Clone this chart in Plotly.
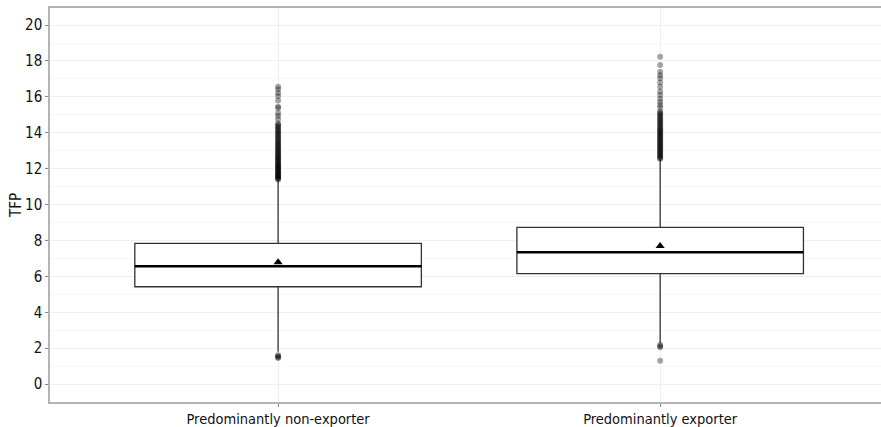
import plotly.graph_objects as go

categories = ["Predominantly non-exporter", "Predominantly exporter"]
positions = [1, 2]
q1 = [5.42, 6.15]
median = [6.56, 7.34]
q3 = [7.84, 8.73]
lower_whisker = [1.80, 2.28]
upper_whisker = [11.36, 12.52]
means = [6.78, 7.69]

outliers_non_exporter = [
    1.45, 1.50, 1.55, 1.60,
    11.40, 11.44, 11.48, 11.52, 11.56, 11.60, 11.65, 11.70, 11.74, 11.79, 11.84,
    11.88, 11.93, 11.98, 12.03, 12.08, 12.12, 12.17, 12.22, 12.28, 12.33, 12.38,
    12.44, 12.49, 12.55, 12.61, 12.66, 12.72, 12.78, 12.84, 12.90, 12.96, 13.02,
    13.08, 13.14, 13.20, 13.27, 13.33, 13.40, 13.46, 13.53, 13.60, 13.67, 13.74,
    13.80, 13.87, 13.94, 14.01, 14.08, 14.15, 14.22, 14.30, 14.37, 14.45, 14.52,
    14.75, 14.95, 15.10, 15.38, 15.45, 15.80, 16.05, 16.22, 16.42, 16.56,
]
outliers_exporter = [
    1.30, 2.05, 2.12, 2.18,
    12.55, 12.60, 12.65, 12.70, 12.76, 12.82, 12.88, 12.94, 13.00, 13.06, 13.12,
    13.18, 13.24, 13.30, 13.36, 13.42, 13.48, 13.54, 13.60, 13.66, 13.72, 13.78,
    13.84, 13.90, 13.96, 14.02, 14.08, 14.14, 14.20, 14.26, 14.33, 14.40, 14.47,
    14.54, 14.61, 14.68, 14.75, 14.82, 14.90, 14.98, 15.05, 15.12, 15.18,
    15.40, 15.55, 15.72, 15.90, 16.10, 16.30, 16.56, 16.80, 17.03, 17.20, 17.40,
    17.77, 18.23,
]
y_ticks = [0, 2, 4, 6, 8, 10, 12, 14, 16, 18, 20]
box_width = 0.75

FONT = "DejaVu Sans Condensed, Roboto Condensed, Roboto, sans-serif"
fig = go.Figure()

for i in range(2):
    fig.add_trace(go.Box(
        x=[positions[i]], q1=[q1[i]], median=[median[i]], q3=[q3[i]],
        lowerfence=[lower_whisker[i]], upperfence=[upper_whisker[i]],
        boxpoints=False, width=box_width, whiskerwidth=0,
        fillcolor="white", line=dict(color="#333333", width=1.3),
        showlegend=False, hoverinfo="skip",
    ))
    # thicker median line
    fig.add_trace(go.Scatter(
        x=[positions[i] - box_width / 2, positions[i] + box_width / 2],
        y=[median[i], median[i]], mode="lines",
        line=dict(color="black", width=2.4), showlegend=False, hoverinfo="skip",
    ))

for pos, vals in zip(positions, [outliers_non_exporter, outliers_exporter]):
    fig.add_trace(go.Scatter(
        x=[pos] * len(vals), y=vals, mode="markers",
        marker=dict(size=6, color="black", opacity=0.35, line=dict(width=0)),
        showlegend=False, hoverinfo="skip",
    ))

fig.add_trace(go.Scatter(
    x=positions, y=means, mode="markers",
    marker=dict(symbol="triangle-up", size=8, color="black"),
    showlegend=False, hoverinfo="skip",
))

fig.update_layout(
    width=881, height=427,
    margin=dict(l=50, r=0, t=8, b=25),
    paper_bgcolor="white", plot_bgcolor="white",
    font=dict(family=FONT, size=14, color="#111111"),
    xaxis=dict(
        range=[0.403, 2.578], tickmode="array", tickvals=positions, ticktext=categories,
        showgrid=True, gridcolor="#f0f0f0", gridwidth=1,
        showline=True, mirror=True, linecolor="#b3b3b3", linewidth=1.5,
        ticks="outside", ticklen=3, tickcolor="#888888",
        tickfont=dict(family=FONT, size=14.5, color="#111111"),
        zeroline=False,
    ),
    yaxis=dict(
        range=[-1.0, 20.95], tickmode="array", tickvals=y_ticks,
        showgrid=True, gridcolor="#f0f0f0", gridwidth=1,
        minor=dict(dtick=1, tick0=1, showgrid=True, gridcolor="#f7f7f7", gridwidth=1),
        showline=True, mirror=False, linecolor="#b3b3b3", linewidth=1.5,
        ticks="outside", ticklen=3, tickcolor="#888888",
        tickfont=dict(family=FONT, size=15, color="#111111"),
        title=dict(text="TFP", font=dict(family=FONT, size=15, color="#111111"), standoff=0),
        zeroline=False,
    ),
)

fig.write_html("out.html")
